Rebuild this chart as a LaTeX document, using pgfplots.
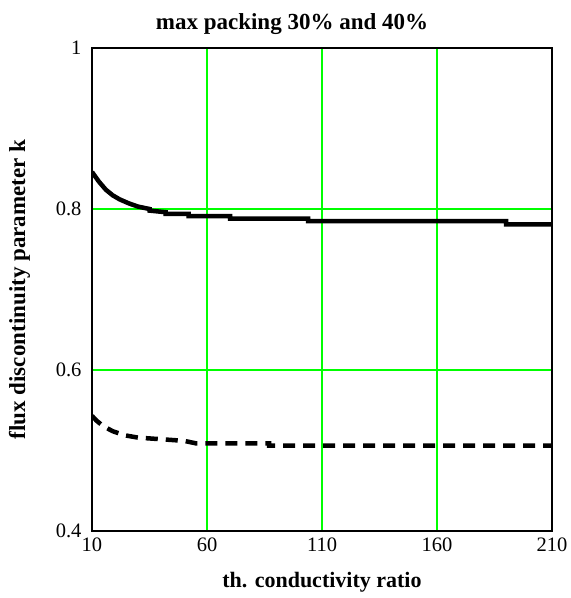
\documentclass[border=0pt]{standalone}
\usepackage{pgfplots}
\pgfplotsset{compat=1.18}
\usetikzlibrary{calc}
\usepackage{fontspec}
\setmainfont{Liberation Serif}
\definecolor{gridgreen}{RGB}{0,255,0}
\begin{document}
\begin{tikzpicture}
\begin{axis}[
    name=ax,
    scale only axis,
    width=460pt, height=483pt,
    xmin=10, xmax=210, ymin=0.4, ymax=1,
    xtick={10,60,110,160,210},
    ytick={0.4,0.6,0.8,1},
    major tick length=0pt,
    xmajorgrids, ymajorgrids,
    major grid style={draw=gridgreen, line width=1.5pt},
    axis line style={black, line width=1.5pt},
    tick label style={font=\fontsize{20.5}{22}\selectfont},
    /pgf/number format/assume math mode=true,
    xticklabel style={yshift=-3pt},
    yticklabel style={xshift=-7pt},
    title={\fontsize{23}{25}\selectfont\bfseries max packing 30\% and 40\%},
    title style={yshift=4pt, xshift=-30pt},
    xlabel={\fontsize{22}{24}\selectfont\bfseries th. conductivity ratio},
    ylabel={\fontsize{23}{25}\selectfont\bfseries flux discontinuity parameter k},
    xlabel style={yshift=-14pt},
    ylabel style={yshift=19pt},
]
\addplot[black, line width=4.5pt] coordinates {
(10,0.846)(13,0.834)(16,0.824)(19,0.817)(22,0.812)(26,0.807)(30,0.803)
(35,0.800)(35,0.798)(42,0.796)(42,0.794)(52,0.794)(52,0.791)(70,0.791)
(70,0.788)(104,0.788)(104,0.785)(190,0.785)(190,0.781)(210,0.781)};
\addplot[black, line width=4.5pt, dash pattern=on 12pt off 8pt] coordinates {
(10,0.543)(12,0.537)(15,0.530)(19,0.524)(24,0.519)(30,0.516)(40,0.514)
(50,0.512)(55,0.509)(87,0.509)(87,0.506)(210,0.506)};
\end{axis}
\pgfresetboundingbox
\path[use as bounding box] ($(ax.south west)+(-92pt,-67pt)$) rectangle ($(ax.north east)+(18pt,48pt)$);
\end{tikzpicture}
\end{document}
